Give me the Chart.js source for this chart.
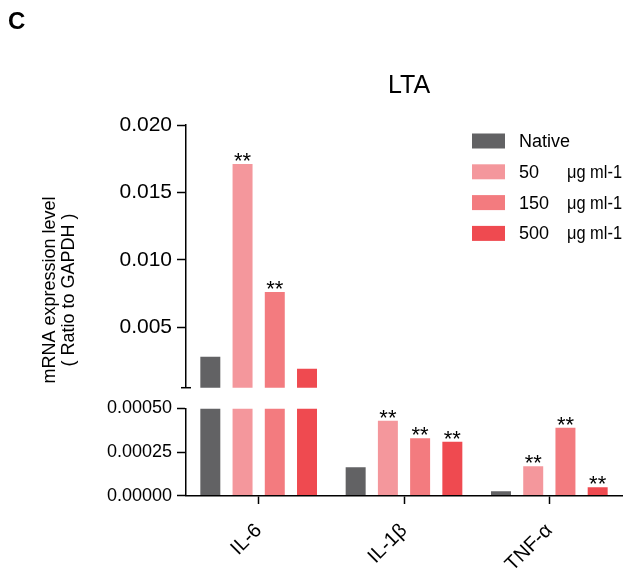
<!DOCTYPE html>
<html>
<head>
<meta charset="utf-8">
<script src="https://cdn.jsdelivr.net/npm/chart.js@4.4.1/dist/chart.umd.min.js"></script>
<style>
  html, body { margin: 0; padding: 0; background: #fff; }
  #wrap { position: relative; width: 625px; height: 572px; }
</style>
</head>
<body>
<div id="wrap"><canvas id="chart" width="625" height="572"></canvas></div>
<script>
// data
const categories = ['IL-6', 'IL-1β', 'TNF-α'];
const seriesNames = ['Native', '50', '150', '500'];
const unitLabel = 'μg ml-1';
const nativeValues = [0.0028, 0.000165, 0.000027];
const dose50Values = [0.0171, 0.00043, 0.00017];
const dose150Values = [0.0076, 0.00033, 0.00039];
const dose500Values = [0.0019, 0.00031, 0.00005];
const upperTicks = [0.005, 0.010, 0.015, 0.020];
const lowerTicks = [0, 0.00025, 0.0005];
const nativeSig = ['', '', ''];
const dose50Sig = ['**', '**', '**'];
const dose150Sig = ['**', '**', '**'];
const dose500Sig = ['', '**', '**'];

// broken y axis: lower 0..0.0005, upper 0.0005..0.020
const LOWER_MAX = 0.0005;
const UPPER_MIN = 0.0005;
const UPPER_MAX = 0.020;

const family = '"Liberation Sans", Arial, Helvetica, sans-serif';
const colors = ['#626264', '#F4979C', '#F37B7F', '#EF4A50'];

const allValues = [nativeValues, dose50Values, dose150Values, dose500Values];
const allSig = [nativeSig, dose50Sig, dose150Sig, dose500Sig];

// one dataset per series on each axis segment, sharing a bar slot through `stack`
const upperSets = allValues.map((vals, i) => ({
    label: seriesNames[i],
    data: vals.map(v => v > UPPER_MIN ? v : null),
    backgroundColor: colors[i],
    yAxisID: 'yUpper',
    stack: 's' + i
}));
const lowerSets = allValues.map((vals, i) => ({
    label: seriesNames[i],
    data: vals.map(v => Math.min(v, LOWER_MAX)),
    backgroundColor: colors[i],
    yAxisID: 'yLower',
    stack: 's' + i
}));

const axisGrid = { drawOnChartArea: false, tickLength: 9, tickColor: '#000', tickWidth: 1.5 };
const axisBorder = { color: '#000', width: 1.5, z: 1 };
const fixWidth = s => { s.width = 80; };

const decor = {
    id: 'decor',
    afterDatasetsDraw(chart) {
        const ctx = chart.ctx;
        ctx.save();
        ctx.fillStyle = '#000';
        ctx.font = '22px ' + family;
        ctx.textAlign = 'center';
        ctx.textBaseline = 'alphabetic';
        allSig.forEach((marks, s) => {
            marks.forEach((m, c) => {
                if (!m) return;
                const onUpper = allValues[s][c] > UPPER_MIN;
                const el = chart.getDatasetMeta(onUpper ? s : s + 4).data[c];
                ctx.fillText(m, el.x, el.y + 4);
            });
        });
        ctx.restore();
    },
    afterDraw(chart) {
        const ctx = chart.ctx;
        const area = chart.chartArea;
        const up = chart.scales.yUpper;
        ctx.save();
        ctx.fillStyle = '#000';

        // panel letter
        ctx.font = 'bold 24px ' + family;
        ctx.textAlign = 'left';
        ctx.textBaseline = 'alphabetic';
        ctx.fillText('C', 8, 29);

        // chart title
        ctx.font = '25px ' + family;
        ctx.textAlign = 'center';
        ctx.fillText('LTA', 409, 92.5);

        // break mark at the foot of the upper segment
        ctx.strokeStyle = '#000';
        ctx.lineWidth = 1.5;
        ctx.beginPath();
        ctx.moveTo(area.left - 5, up.bottom);
        ctx.lineTo(area.left + 5, up.bottom);
        ctx.stroke();

        // y axis title, two lines
        ctx.font = '18px ' + family;
        ctx.textAlign = 'center';
        [['mRNA expression level', 55], ['( Ratio to GAPDH )', 74]].forEach(([t, x]) => {
            ctx.save();
            ctx.translate(x, 290);
            ctx.rotate(-Math.PI / 2);
            ctx.fillText(t, 0, 0);
            ctx.restore();
        });

        // legend
        ctx.textAlign = 'left';
        ctx.textBaseline = 'middle';
        seriesNames.forEach((name, i) => {
            const cy = 141 + i * 30.8;
            ctx.fillStyle = colors[i];
            ctx.fillRect(472, cy - 7.5, 33, 15);
            ctx.fillStyle = '#000';
            ctx.fillText(name, 519, cy + 1);
            if (i > 0) ctx.fillText(unitLabel, 567, cy + 1, 55);
        });
        ctx.restore();
    }
};

new Chart(document.getElementById('chart'), {
    type: 'bar',
    data: {
        labels: categories,
        datasets: upperSets.concat(lowerSets)
    },
    options: {
        responsive: false,
        animation: false,
        devicePixelRatio: 1,
        categoryPercentage: 0.887,
        barPercentage: 0.62,
        layout: { padding: { left: 106, right: 3, top: 125, bottom: 0 } },
        plugins: {
            legend: { display: false },
            tooltip: { enabled: false },
            title: { display: false }
        },
        scales: {
            x: {
                offset: true,
                grid: { drawOnChartArea: false, offset: false, tickLength: 8, tickColor: '#000', tickWidth: 1.5 },
                border: axisBorder,
                ticks: { color: '#000', font: { family: family, size: 20 }, minRotation: 45, maxRotation: 45, padding: 15 },
                afterFit: s => { s.height = 76; }
            },
            yUpper: {
                type: 'linear',
                position: 'left',
                stack: 'y',
                stackWeight: 262.5,
                weight: 3,
                min: UPPER_MIN,
                max: UPPER_MAX,
                grid: axisGrid,
                border: axisBorder,
                ticks: { color: '#000', font: { family: family, size: 21 }, padding: 5, callback: v => v.toFixed(3) },
                afterBuildTicks: s => { s.ticks = upperTicks.map(v => ({ value: v })); },
                afterFit: fixWidth
            },
            yGap: {
                type: 'linear',
                position: 'left',
                stack: 'y',
                stackWeight: 20.8,
                weight: 2,
                min: 0,
                max: 1,
                grid: { display: false },
                border: { display: false },
                ticks: { display: false },
                afterFit: fixWidth
            },
            yLower: {
                type: 'linear',
                position: 'left',
                stack: 'y',
                stackWeight: 87.4,
                weight: 1,
                min: 0,
                max: LOWER_MAX,
                grid: axisGrid,
                border: axisBorder,
                ticks: { color: '#000', font: { family: family, size: 18 }, padding: 5, callback: v => v.toFixed(5) },
                afterBuildTicks: s => { s.ticks = lowerTicks.map(v => ({ value: v })); },
                afterFit: fixWidth
            }
        }
    },
    plugins: [decor]
});
</script>
</body>
</html>
